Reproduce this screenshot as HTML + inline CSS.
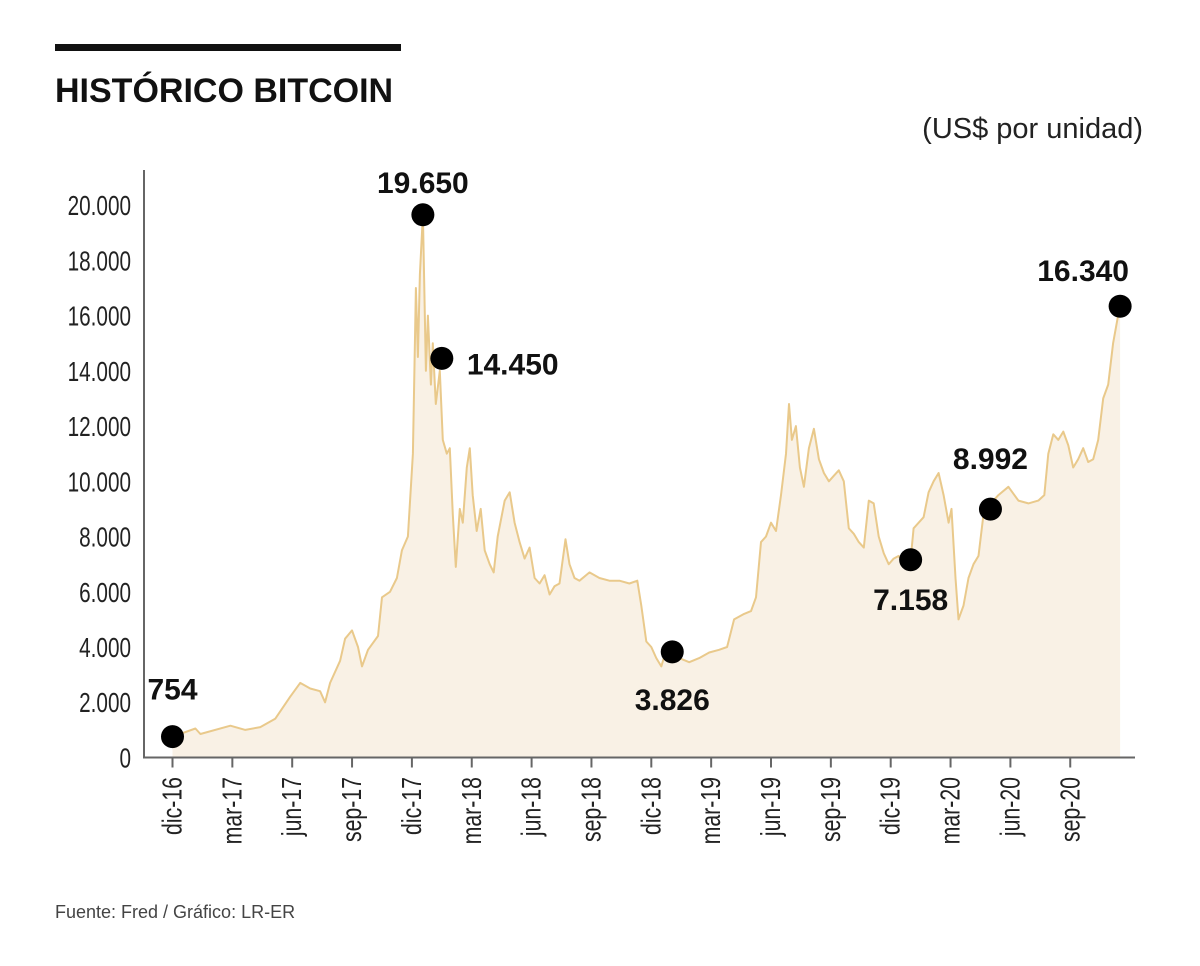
<!DOCTYPE html>
<html><head><meta charset="utf-8">
<style>
body{margin:0;background:#fff;}
svg{display:block;font-family:"Liberation Sans",sans-serif;}
</style></head><body>
<svg id="chart" width="1200" height="966" viewBox="0 0 1200 966">
<rect x="55" y="44" width="346" height="7" fill="#111"/>
<text x="55" y="102" font-size="34" font-weight="bold" fill="#111">HISTÓRICO BITCOIN</text>
<text x="1143" y="138" font-size="29" text-anchor="end" fill="#222">(US$ por unidad)</text>
<g id="plot"></g>
<text x="55" y="918" font-size="18" fill="#444">Fuente: Fred / Gráfico: LR-ER</text>
</svg>
<script>
const monthsSinceDec16 = [0,1.15,1.4,2.9,3.65,4.4,5.15,5.9,6.4,6.9,7.4,7.65,7.9,8.4,8.65,9,9.3,9.5,9.8,10.3,10.5,10.9,11.25,11.5,11.8,11.95,12.05,12.2,12.3,12.4,12.55,12.7,12.8,12.95,13.05,13.2,13.4,13.55,13.75,13.9,14.05,14.2,14.4,14.55,14.75,14.9,15.05,15.25,15.45,15.65,15.9,16.1,16.3,16.65,16.9,17.15,17.4,17.65,17.9,18.15,18.4,18.65,18.9,19.15,19.4,19.7,19.9,20.15,20.4,20.9,21.4,21.9,22.4,22.9,23.3,23.5,23.75,24,24.25,24.5,24.75,25.05,25.4,25.9,26.4,26.9,27.4,27.8,28.15,28.65,29,29.25,29.5,29.75,30,30.25,30.5,30.75,30.9,31.05,31.25,31.45,31.65,31.9,32.15,32.4,32.65,32.9,33.15,33.4,33.65,33.9,34.15,34.4,34.65,34.9,35.15,35.4,35.65,35.9,36.15,36.4,36.65,37,37.15,37.65,37.9,38.15,38.4,38.65,38.9,39.05,39.25,39.4,39.65,39.9,40.15,40.4,40.65,41,41.15,41.4,41.9,42.4,42.9,43.4,43.7,43.9,44.15,44.4,44.65,44.9,45.15,45.4,45.65,45.9,46.15,46.4,46.65,46.9,47.15,47.4,47.5];
const priceUSD = [754,1050,850,1150,1000,1100,1400,2200,2700,2500,2400,2000,2700,3500,4300,4600,4000,3300,3900,4400,5800,6000,6500,7500,8000,9800,11000,17000,14500,17500,19650,14000,16000,13500,15000,12800,14000,11500,11000,11200,8800,6900,9000,8500,10500,11200,9500,8200,9000,7500,7000,6700,8000,9300,9600,8500,7800,7200,7600,6500,6300,6600,5900,6200,6300,7900,7000,6500,6400,6700,6500,6400,6400,6300,6400,5500,4200,4000,3600,3300,3900,3750,3600,3450,3600,3800,3900,4000,5000,5200,5300,5800,7800,8000,8500,8200,9500,11000,12800,11500,12000,10500,9800,11200,11900,10800,10300,10000,10200,10400,10000,8300,8100,7800,7600,9300,9200,8000,7400,7000,7200,7300,7000,7158,8300,8700,9600,10000,10300,9500,8500,9000,6500,5000,5500,6500,7000,7300,8800,8992,9300,9500,9800,9300,9200,9300,9500,11000,11700,11500,11800,11300,10500,10800,11200,10700,10800,11500,13000,13500,15000,16000,16340];
const yTicks = [0,2000,4000,6000,8000,10000,12000,14000,16000,18000,20000];
const yTickLabels = ["0","2.000","4.000","6.000","8.000","10.000","12.000","14.000","16.000","18.000","20.000"];
const xTickMonths = [0,3,6,9,12,15,18,21,24,27,30,33,36,39,42,45];
const xTickLabels = ["dic-16","mar-17","jun-17","sep-17","dic-17","mar-18","jun-18","sep-18","dic-18","mar-19","jun-19","sep-19","dic-19","mar-20","jun-20","sep-20"];
const markerMonths = [0,12.55,13.5,25.05,37,41,47.5];
const markerValues = [754,19650,14450,3826,7158,8992,16340];
const markerLabels = ["754","19.650","14.450","3.826","7.158","8.992","16.340"];

const NS="http://www.w3.org/2000/svg";
const X0=172.5, PXM=19.95, Y0=757.5, PXV=0.02762;
const xs=m=>X0+m*PXM, ys=v=>Y0-v*PXV;
const g=document.getElementById('plot');
function mk(t,a){const e=document.createElementNS(NS,t);for(const k in a)e.setAttribute(k,a[k]);g.appendChild(e);return e;}

const n=Math.min(monthsSinceDec16.length,priceUSD.length);
const pts=[];
for(let i=0;i<n;i++)pts.push([xs(monthsSinceDec16[i]),ys(priceUSD[i])]);
let d=pts.map((p,i)=>(i?'L':'M')+p[0].toFixed(1)+' '+p[1].toFixed(1)).join(' ');
const area=mk('path',{d:d+` L${pts[n-1][0].toFixed(1)} ${Y0} L${pts[0][0]} ${Y0} Z`,fill:'#f9f1e5'});


const line=mk('path',{d:d,fill:'none',stroke:'#e9c98b','stroke-width':2,'stroke-linejoin':'round'});



const ax=mk('path',{d:`M144 170 L144 ${Y0} L1135 ${Y0}`,fill:'none',stroke:'#666','stroke-width':2});



yTicks.forEach((v,i)=>{
  const t=mk('text',{x:131,y:ys(v)+10,'font-size':28,'text-anchor':'end',fill:'#222',transform:`translate(131 0) scale(0.74 1) translate(-131 0)`,'font-family':'"Liberation Sans Narrow","Liberation Sans",sans-serif'});
  t.textContent=yTickLabels[i];
  
  
});
xTickMonths.forEach((m,i)=>{
  const x=xs(m);
  const tk=mk('line',{x1:x,y1:Y0,x2:x,y2:Y0+10,stroke:'#666','stroke-width':2});
  
  
  const t=mk('text',{x:0,y:0,'font-size':28,'text-anchor':'end',fill:'#222',transform:`translate(${x+9} 777) rotate(-90) scale(0.76 1)`,'font-family':'"Liberation Sans Narrow","Liberation Sans",sans-serif'});
  t.textContent=xTickLabels[i];
  
  
});
const labelOff=[[0,-37,'middle'],[0,-22,'middle'],[25,16,'start'],[0,58,'middle'],[0,50,'middle'],[0,-40,'middle'],[-37,-25,'middle']];
markerMonths.forEach((m,i)=>{
  const cx=xs(m), cy=ys(markerValues[i]);
  const c=mk('circle',{cx:cx,cy:cy,r:11.5,fill:'#000'});
  
  
  const o=labelOff[i];
  const t=mk('text',{x:cx+o[0],y:cy+o[1],'font-size':30,'font-weight':'bold','text-anchor':o[2],fill:'#111'});
  t.textContent=markerLabels[i];
  
  
});
</script>
</body></html>
